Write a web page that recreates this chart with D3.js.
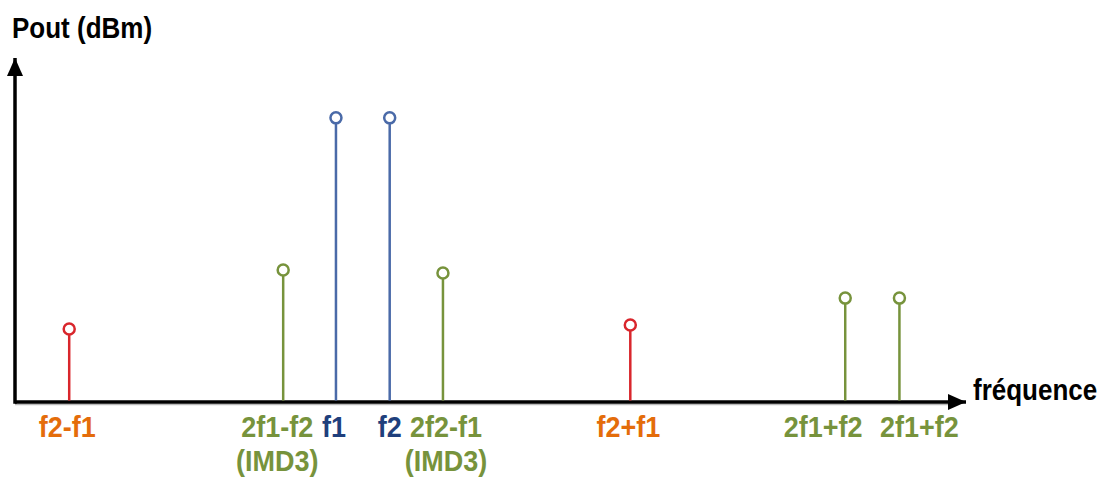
<!DOCTYPE html>
<html>
<head>
<meta charset="utf-8">
<script src="https://cdn.jsdelivr.net/npm/d3@7"></script>
<style>
  html, body { margin: 0; padding: 0; background: #fff; }
  text { font-family: "Liberation Sans", Arial, sans-serif; font-weight: bold; }
</style>
</head>
<body>
<svg></svg>
<script>
var screenWidth = 1108
var screenHeight = 481

// spectral lines, position on the (not to scale) frequency axis and level
var labels    = ["f2-f1", "2f1-f2", "f1", "f2", "2f2-f1", "f2+f1", "2f1+f2", "2f1+f2"]
var subLabels = ["", "(IMD3)", "", "", "(IMD3)", "", "", ""]
var kinds     = ["sum", "imd", "tone", "tone", "imd", "sum", "imd", "imd"]
var freqs     = [5.7, 28.2, 33.75, 39.4, 45.0, 64.7, 87.3, 93.0]
var levels    = [21.2, 38.4, 82.6, 82.6, 37.5, 22.4, 30.2, 30.2]

var stemColor  = {sum: "#d9262c", imd: "#77933c", tone: "#4a6aa8"}
var labelColor = {sum: "#e46c0a", imd: "#77933c", tone: "#1f3f7c"}
// labels are shifted a little from their stems, like in the drawing
var labelNudge = [-2, -6, -2, 0, 3, -2, -22, 20]

var svg = d3.select('svg')
svg.attr("width", screenWidth)
svg.attr("height", screenHeight)

var x = d3.scaleLinear().domain([0, 100]).range([15, 966])
var y = d3.scaleLinear().domain([0, 100]).range([402, 58])

// text in the picture is a bit taller than normal
function addText(parent, str, tx, ty, size, color, anchor){
  return parent.append("text")
    .attr("transform", "translate(" + tx + "," + ty + ") scale(1,1.1)")
    .attr("text-anchor", anchor || "start")
    .attr("font-size", size)
    .attr("fill", color)
    .text(str)
}

var defs = svg.append("defs")
defs.append("marker")
  .attr("id", "arrow")
  .attr("viewBox", "0 0 18 16")
  .attr("refX", 18).attr("refY", 8)
  .attr("markerWidth", 18).attr("markerHeight", 16)
  .attr("markerUnits", "userSpaceOnUse")
  .attr("orient", "auto")
  .append("path")
  .attr("d", "M0,0 L18,8 L0,16 Z")
  .attr("fill", "#000")

// faint shadow under the frequency axis
svg.append("line")
  .attr("x1", x(0)).attr("x2", x(100) - 16)
  .attr("y1", y(0) + 2.5).attr("y2", y(0) + 2.5)
  .attr("stroke", "#bbb").attr("stroke-width", 1.5)

// axes
svg.append("line")
  .attr("x1", x(0)).attr("x2", x(100))
  .attr("y1", y(0)).attr("y2", y(0))
  .attr("stroke", "#000").attr("stroke-width", 3.5)
  .attr("marker-end", "url(#arrow)")

svg.append("line")
  .attr("x1", x(0)).attr("x2", x(0))
  .attr("y1", y(0) + 1.7).attr("y2", y(100))
  .attr("stroke", "#000").attr("stroke-width", 3.5)
  .attr("marker-end", "url(#arrow)")

addText(svg, "Pout (dBm)", 12, 38, 26, "#000")
addText(svg, "fréquence", 973, 400, 26, "#000")

var r = 5.5

var lines = svg.selectAll(".line")
  .data(freqs.map(function(f, i){ return {f: f, v: levels[i], k: kinds[i], i: i} }))
  .enter().append("g").attr("class", "line")

lines.append("line")
  .attr("x1", d => x(d.f)).attr("x2", d => x(d.f))
  .attr("y1", y(0) - 1.5).attr("y2", d => y(d.v) + r)
  .attr("stroke", d => stemColor[d.k])
  .attr("stroke-width", 2.5)

lines.append("circle")
  .attr("cx", d => x(d.f)).attr("cy", d => y(d.v))
  .attr("r", r)
  .attr("fill", "#fff")
  .attr("stroke", d => stemColor[d.k])
  .attr("stroke-width", 2.5)

lines.each(function(d){
  var g = d3.select(this)
  var lx = x(d.f) + labelNudge[d.i]
  addText(g, labels[d.i], lx, 437, 27, labelColor[d.k], "middle")
  if(subLabels[d.i] != ""){
    addText(g, subLabels[d.i], lx, 471, 27, labelColor[d.k], "middle")
  }
})
</script>
</body>
</html>
